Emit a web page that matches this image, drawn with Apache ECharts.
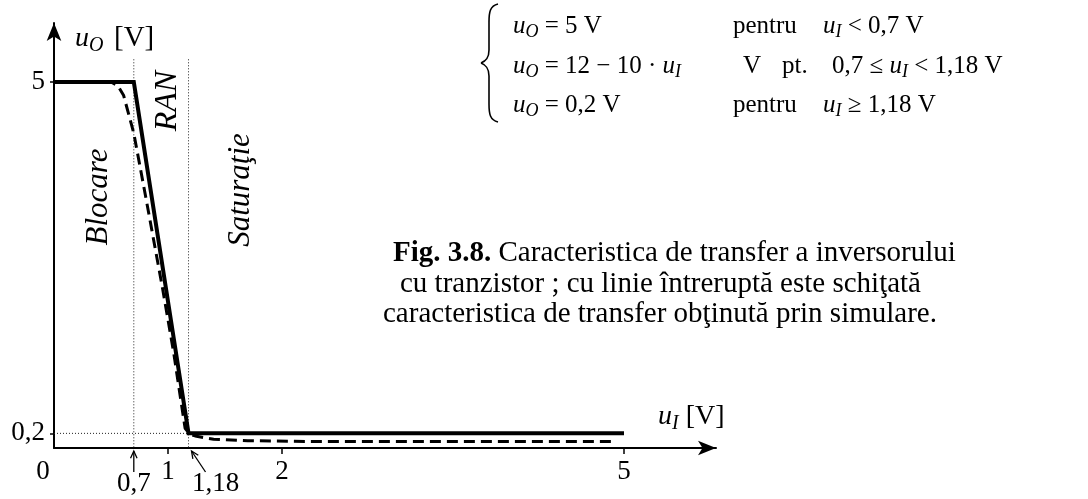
<!DOCTYPE html>
<html>
<head>
<meta charset="utf-8">
<script src="https://cdn.jsdelivr.net/npm/echarts@6/dist/echarts.min.js"></script>
<style>
  html, body { margin: 0; padding: 0; background: #fff; }
  #chart { width: 1088px; height: 499px; }
</style>
</head>
<body>
<div id="chart"></div>
<script>
// Transfer characteristic of the transistor inverter, u_O as a function of u_I.

// Piecewise-linear (ideal) characteristic
const idealX = [0, 0.7, 1.18, 5];
const idealY = [5, 5, 0.2, 0.2];

// Simulated characteristic (dashed)
const simX = [0, 0.5, 0.56, 0.61, 0.7, 0.82, 0.95, 1.05, 1.11, 1.15, 1.19, 1.25, 1.4, 1.7, 2.2, 4.93];
const simY = [5, 5, 4.95, 4.82, 4.3, 3.3, 2.2, 1.3, 0.68, 0.27, 0.19, 0.16, 0.12, 0.1, 0.09, 0.09];

// Axis ticks and labels
const xTickValues = [1, 2, 5];
const xTickLabels = ['1', '2', '5'];
const yTickValues = [0.2, 5];
const yTickLabels = ['0,2', '5'];

// Region boundaries marked under the axis
const boundaryX = [0.7, 1.18];
const boundaryLabels = ['0,7', '1,18'];
const guideTopY = 5.31;
const guideLevelY = 0.2;

const SERIF = '"Liberation Serif", "Times New Roman", Times, serif';
const measureCtx = document.createElement('canvas').getContext('2d');
function textWidth(str, size, italic, bold) {
  measureCtx.font = (italic ? 'italic ' : '') + (bold ? 'bold ' : '') + size + 'px ' + SERIF;
  return measureCtx.measureText(str).width;
}

// Baseline-positioned text run with italic letters and subscripts
function mathRun(x, baseline, tokens, size) {
  const els = [];
  let cx = x;
  tokens.forEach(function (tk) {
    const str = tk[0], kind = tk[1];
    const italic = kind === 'i' || kind === 's';
    const s = kind === 's' ? Math.round(size * 0.72) : size;
    const base = kind === 's' ? baseline + size * 0.17 : baseline;
    els.push({
      type: 'text', x: cx, y: base - s * 0.3, silent: true,
      style: {
        text: str, fill: '#000',
        font: (italic ? 'italic ' : '') + s + 'px ' + SERIF,
        align: 'left', verticalAlign: 'middle',
        textAlign: 'left', textVerticalAlign: 'middle'
      }
    });
    cx += textWidth(str, s, italic, false);
  });
  return els;
}

function plainText(x, y, str, size, opts) {
  opts = opts || {};
  return {
    type: 'text', x: x, y: y, rotation: opts.rotation || 0, silent: true,
    style: {
      text: str, fill: '#000',
      font: (opts.italic ? 'italic ' : '') + (opts.bold ? 'bold ' : '') + size + 'px ' + SERIF,
      align: opts.align || 'left', verticalAlign: 'middle',
      textAlign: opts.align || 'left', textVerticalAlign: 'middle',
      rich: opts.rich
    }
  };
}

function zip(xs, ys) { return xs.map(function (x, i) { return [x, ys[i]]; }); }

const chart = echarts.init(document.getElementById('chart'), null, { renderer: 'canvas' });

const axisFont = { fontFamily: SERIF, fontSize: 27, color: '#000' };

chart.setOption({
  animation: false,
  backgroundColor: '#fff',
  grid: { left: 54, top: 23, right: 372, bottom: 51, containLabel: false },
  xAxis: {
    type: 'value', min: 0, max: 5.807,
    axisLine: { show: true, onZero: false, symbol: ['none', 'arrow'], symbolSize: [11, 18],
      lineStyle: { color: '#000', width: 2 } },
    axisTick: { show: true, customValues: xTickValues, length: 6, lineStyle: { color: '#000', width: 1.5 } },
    axisLabel: Object.assign({ customValues: xTickValues, margin: 10,
      formatter: function (v) { return xTickLabels[xTickValues.indexOf(v)]; } }, axisFont),
    splitLine: { show: false }
  },
  yAxis: {
    type: 'value', min: 0, max: 5.806,
    axisLine: { show: true, onZero: false, symbol: ['none', 'arrow'], symbolSize: [11, 18],
      lineStyle: { color: '#000', width: 2 } },
    axisTick: { show: true, customValues: yTickValues, length: 4, lineStyle: { color: '#000', width: 1.5 } },
    axisLabel: Object.assign({ customValues: yTickValues, margin: 9,
      formatter: function (v) {
        let k = 0;
        yTickValues.forEach(function (t, i) { if (Math.abs(t - v) < 1e-6) k = i; });
        return yTickLabels[k];
      } }, axisFont),
    splitLine: { show: false }
  },
  series: [
    {
      name: 'guide-0.7', type: 'line', symbol: 'none', silent: true, z: 1,
      data: [[boundaryX[0], guideTopY], [boundaryX[0], 0]],
      lineStyle: { color: '#222', width: 1, type: [1, 2] }
    },
    {
      name: 'guide-1.18', type: 'line', symbol: 'none', silent: true, z: 1,
      data: [[boundaryX[1], guideTopY], [boundaryX[1], 0]],
      lineStyle: { color: '#222', width: 1, type: [1, 2] }
    },
    {
      name: 'guide-0.2', type: 'line', symbol: 'none', silent: true, z: 1,
      data: [[0, guideLevelY], [boundaryX[1], guideLevelY]],
      lineStyle: { color: '#222', width: 1, type: [1, 2] }
    },
    {
      name: 'simulare', type: 'line', symbol: 'none', z: 3,
      data: zip(simX, simY),
      lineStyle: { color: '#000', width: 3, type: [11, 6] }
    },
    {
      name: 'ideal', type: 'line', symbol: 'none', z: 4,
      data: zip(idealX, idealY),
      lineStyle: { color: '#000', width: 4, join: 'miter' }
    }
  ]
});

// Annotations placed from the axis scales
const axisY = chart.convertToPixel({ gridIndex: 0 }, [0, 0])[1];
const originX = chart.convertToPixel({ gridIndex: 0 }, [0, 0])[0];
const px07 = chart.convertToPixel({ gridIndex: 0 }, [boundaryX[0], 0])[0];
const px118 = chart.convertToPixel({ gridIndex: 0 }, [boundaryX[1], 0])[0];

function arrow(x1, y1, x2, y2) {
  const ang = Math.atan2(y2 - y1, x2 - x1);
  const L = 8, W = 0.42;
  const a1 = [x2 - L * Math.cos(ang - W), y2 - L * Math.sin(ang - W)];
  const a2 = [x2 - L * Math.cos(ang + W), y2 - L * Math.sin(ang + W)];
  return [
    { type: 'line', silent: true, shape: { x1: x1, y1: y1, x2: x2, y2: y2 }, style: { stroke: '#000', lineWidth: 1.3 } },
    { type: 'polyline', silent: true, shape: { points: [a1, [x2, y2], a2] }, style: { stroke: '#000', lineWidth: 1.3, fill: null } }
  ];
}

function seg(x1, y1, x2, y2) {
  return { type: 'line', silent: true, shape: { x1: x1, y1: y1, x2: x2, y2: y2 },
    style: { stroke: '#000', lineWidth: 1.6 } };
}
function curve(x1, y1, c1x, c1y, c2x, c2y, x2, y2) {
  return { type: 'bezierCurve', silent: true,
    shape: { x1: x1, y1: y1, cpx1: c1x, cpy1: c1y, cpx2: c2x, cpy2: c2y, x2: x2, y2: y2 },
    style: { stroke: '#000', lineWidth: 1.6, fill: null } };
}

let g = [];
// origin label and boundary labels
g.push(plainText(originX - 11, axisY + 24, '0', 27, { align: 'center' }));
g.push(plainText(px07, axisY + 36, boundaryLabels[0], 27, { align: 'center' }));
g.push(plainText(px118 + 27, axisY + 36, boundaryLabels[1], 27, { align: 'center' }));
g = g.concat(arrow(px07, axisY + 24, px07, axisY + 3));
g = g.concat(arrow(px118 + 17, axisY + 24, px118 + 3, axisY + 3));

// axis names
g = g.concat(mathRun(75, 47, [['u', 'i'], ['O', 's']], 28));
g = g.concat(mathRun(114, 47, [['[V]', 'r']], 29));
g = g.concat(mathRun(658, 425, [['u', 'i'], ['I', 's'], [' [V]', 'r']], 28));

// operating regions
g.push(plainText(99, 197, 'Blocare', 31, { italic: true, align: 'center', rotation: Math.PI / 2 }));
g.push(plainText(168, 101, 'RAN', 32, { italic: true, align: 'center', rotation: Math.PI / 2 }));
g.push(plainText(241, 190, 'Saturaţie', 31, { italic: true, align: 'center', rotation: Math.PI / 2 }));

// brace of the equation system
g.push(curve(498, 4, 490, 6, 489, 12, 489, 22));
g.push(seg(489, 22, 489, 50));
g.push(curve(489, 50, 489, 58, 486, 61, 481, 63));
g.push(curve(481, 63, 486, 65, 489, 68, 489, 76));
g.push(seg(489, 76, 489, 104));
g.push(curve(489, 104, 489, 114, 490, 120, 498, 122));

const EQ = 25;
const B1 = 33.5, B2 = 73.5, B3 = 112.5;
g = g.concat(mathRun(513, B1, [['u', 'i'], ['O', 's'], [' = 5 V', 'r']], EQ));
g = g.concat(mathRun(733, B1, [['pentru', 'r']], EQ));
g = g.concat(mathRun(823, B1, [['u', 'i'], ['I', 's'], [' < 0,7 V', 'r']], EQ));
g = g.concat(mathRun(513, B2, [['u', 'i'], ['O', 's'], [' = 12 − 10 · ', 'r'], ['u', 'i'], ['I', 's']], EQ));
g = g.concat(mathRun(743, B2, [['V', 'r']], EQ));
g = g.concat(mathRun(782, B2, [['pt.', 'r']], EQ));
g = g.concat(mathRun(832, B2, [['0,7 ≤ ', 'r'], ['u', 'i'], ['I', 's'], [' < 1,18 V', 'r']], EQ));
g = g.concat(mathRun(513, B3, [['u', 'i'], ['O', 's'], [' = 0,2 V', 'r']], EQ));
g = g.concat(mathRun(733, B3, [['pentru', 'r']], EQ));
g = g.concat(mathRun(823, B3, [['u', 'i'], ['I', 's'], [' ≥ 1,18 V', 'r']], EQ));

// caption
const CAP = 29;
g.push(plainText(393, 253.5, '{b|Fig. 3.8.} Caracteristica de transfer a inversorului', CAP,
  { rich: { b: { fontWeight: 'bold', fontSize: CAP, fontFamily: SERIF, fill: '#000', color: '#000' } } }));
g.push(plainText(400, 284, 'cu tranzistor ; cu linie întreruptă este schiţată', CAP));
g.push(plainText(383, 314.5, 'caracteristica de transfer obţinută prin simulare.', CAP));

chart.setOption({ graphic: { elements: g } });
</script>
</body>
</html>
